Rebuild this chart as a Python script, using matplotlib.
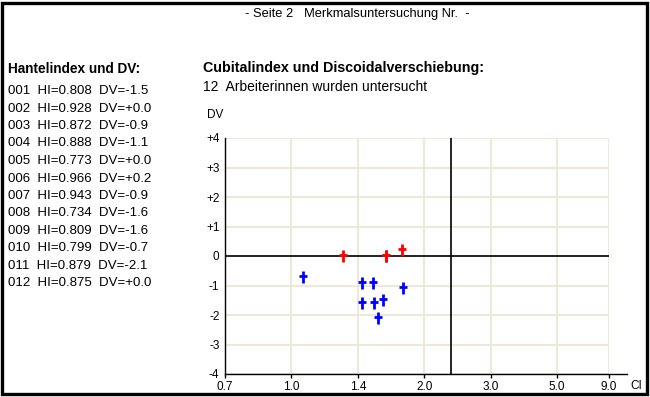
import matplotlib.pyplot as plt
import numpy as np
from matplotlib.path import Path
from matplotlib.patches import Rectangle

# worker data
workers = ['001', '002', '003', '004', '005', '006', '007', '008', '009', '010', '011', '012']
hi = [0.808, 0.928, 0.872, 0.888, 0.773, 0.966, 0.943, 0.734, 0.809, 0.799, 0.879, 0.875]
dv = [-1.5, 0.0, -0.9, -1.1, 0.0, 0.2, -0.9, -1.6, -1.6, -0.7, -2.1, 0.0]
ci = [1.63, 1.65, 1.44, 1.81, 1.31, 1.80, 1.54, 1.44, 1.55, 1.07, 1.58, 1.65]

ci_ticks = [0.7, 1.0, 1.4, 2.0, 3.0, 5.0, 9.0]
ci_tick_pos = [0, 1, 2, 3, 4, 5, 5.78]
dv_ticks = [4, 3, 2, 1, 0, -1, -2, -3, -4]
dv_labels = ['+4', '+3', '+2', '+1', '0', '-1', '-2', '-3', '-4']
ci_limit = 2.4

plt.rcParams['font.family'] = ['Liberation Sans', 'DejaVu Sans']
plt.rcParams['font.size'] = 9.5

W, H = 650, 397
fig = plt.figure(figsize=(W / 100, H / 100), dpi=100)
fig.patch.set_facecolor('white')


def px(x, y):
    return x / W, 1 - y / H


# frame around the page
fig.patches.append(Rectangle((1.5 / W, 3 / H), 645.5 / W, 391.5 / H, transform=fig.transFigure,
                             fill=False, edgecolor='black', linewidth=2.4))

fig.text(*px(357, 14), '- Seite 2   Merkmalsuntersuchung Nr.  -', ha='center', va='center', fontsize=9.3)

# left list
fig.text(*px(8, 69), 'Hantelindex und DV:', ha='left', va='center', fontweight='bold', fontsize=9.8)
for i, w in enumerate(workers):
    fig.text(*px(8, 91 + i * 17.5), f'{w}  HI={hi[i]:.3f}  DV={dv[i]:+.1f}', ha='left', va='center')

fig.text(*px(203, 68), 'Cubitalindex und Discoidalverschiebung:', ha='left', va='center',
         fontweight='bold', fontsize=10.3)
fig.text(*px(203, 87), f'{len(workers)}  Arbeiterinnen wurden untersucht', ha='left', va='center',
         fontsize=10)
fig.text(*px(207, 115), 'DV', ha='left', va='center', fontsize=8.5)
fig.text(*px(630, 386), 'CI', ha='left', va='center', fontsize=8.5)

# plot area
x0, x1, y0, y1 = 225, 609, 138, 374
ax = fig.add_axes([x0 / W, 1 - y1 / H, (x1 - x0) / W, (y1 - y0) / H])
ax.set_facecolor('none')


def fwd(v):
    return np.interp(v, ci_ticks, ci_tick_pos)


def inv(v):
    return np.interp(v, ci_tick_pos, ci_ticks)


ax.set_xscale('function', functions=(fwd, inv))
ax.set_xlim(0.7, 9.0)
ax.set_ylim(-4, 4)
ax.set_xticks(ci_ticks)
ax.set_xticklabels([f'{t:.1f}' for t in ci_ticks])
ax.set_yticks(dv_ticks)
ax.set_yticklabels(dv_labels)
ax.minorticks_off()
ax.tick_params(axis='x', length=3, width=1, pad=2, labelsize=8.5)
ax.tick_params(axis='y', length=0, pad=4, labelsize=8.5)
ax.grid(True, color='#ECE9D8', linewidth=1.5, zorder=0)
for s in ['top', 'right', 'bottom']:
    ax.spines[s].set_visible(False)
ax.spines['left'].set_linewidth(1)
ax.plot([0, (627 - x0) / (x1 - x0)], [0, 0], transform=ax.transAxes, color='black',
        linewidth=1, clip_on=False, zorder=3)

ax.axhline(0, color='black', linewidth=1.2, zorder=2)
ax.axvline(ci_limit, color='black', linewidth=1.2, zorder=2)

# dagger shaped marker
mark = Path([(0, -1), (0, 1), (-0.7, 0.2), (0.7, 0.2)],
            [Path.MOVETO, Path.LINETO, Path.MOVETO, Path.LINETO])
ci_arr = np.array(ci)
dv_arr = np.array(dv)
pos = dv_arr >= 0
ax.plot(ci_arr[pos], dv_arr[pos], linestyle='none', marker=mark, markersize=8,
        markeredgewidth=2, color='#FF0000', zorder=4)
ax.plot(ci_arr[~pos], dv_arr[~pos], linestyle='none', marker=mark, markersize=8,
        markeredgewidth=2, color='#0000FF', zorder=4)

fig.savefig('out.png', dpi=100)
